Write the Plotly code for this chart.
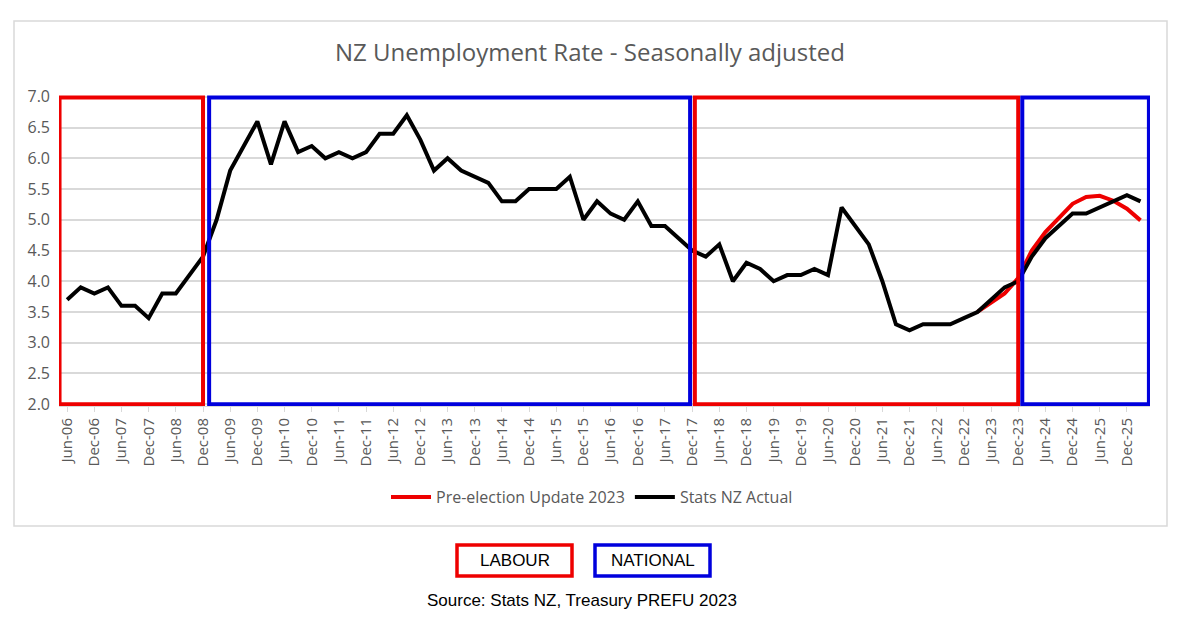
import plotly.graph_objects as go

quarters = [
    "Jun-06", "Sep-06", "Dec-06", "Mar-07", "Jun-07", "Sep-07", "Dec-07", "Mar-08",
    "Jun-08", "Sep-08", "Dec-08", "Mar-09", "Jun-09", "Sep-09", "Dec-09", "Mar-10",
    "Jun-10", "Sep-10", "Dec-10", "Mar-11", "Jun-11", "Sep-11", "Dec-11", "Mar-12",
    "Jun-12", "Sep-12", "Dec-12", "Mar-13", "Jun-13", "Sep-13", "Dec-13", "Mar-14",
    "Jun-14", "Sep-14", "Dec-14", "Mar-15", "Jun-15", "Sep-15", "Dec-15", "Mar-16",
    "Jun-16", "Sep-16", "Dec-16", "Mar-17", "Jun-17", "Sep-17", "Dec-17", "Mar-18",
    "Jun-18", "Sep-18", "Dec-18", "Mar-19", "Jun-19", "Sep-19", "Dec-19", "Mar-20",
    "Jun-20", "Sep-20", "Dec-20", "Mar-21", "Jun-21", "Sep-21", "Dec-21", "Mar-22",
    "Jun-22", "Sep-22", "Dec-22", "Mar-23", "Jun-23", "Sep-23", "Dec-23", "Mar-24",
    "Jun-24", "Sep-24", "Dec-24", "Mar-25", "Jun-25", "Sep-25", "Dec-25", "Mar-26",
]

actual = [
    3.7, 3.9, 3.8, 3.9, 3.6, 3.6, 3.4, 3.8,
    3.8, 4.1, 4.4, 5.0, 5.8, 6.2, 6.6, 5.9,
    6.6, 6.1, 6.2, 6.0, 6.1, 6.0, 6.1, 6.4,
    6.4, 6.7, 6.3, 5.8, 6.0, 5.8, 5.7, 5.6,
    5.3, 5.3, 5.5, 5.5, 5.5, 5.7, 5.0, 5.3,
    5.1, 5.0, 5.3, 4.9, 4.9, 4.7, 4.5, 4.4,
    4.6, 4.0, 4.3, 4.2, 4.0, 4.1, 4.1, 4.2,
    4.1, 5.2, 4.9, 4.6, 4.0, 3.3, 3.2, 3.3,
    3.3, 3.3, 3.4, 3.5, 3.7, 3.9, 4.0, 4.4,
    4.7, 4.9, 5.1, 5.1, 5.2, 5.3, 5.4, 5.3,
]

prefu_quarters = ["Mar-23", "Jun-23", "Sep-23", "Dec-23", "Mar-24", "Jun-24", "Sep-24",
                  "Dec-24", "Mar-25", "Jun-25", "Sep-25", "Dec-25", "Mar-26"]
prefu = [3.5, 3.65, 3.8, 4.05, 4.5, 4.8, 5.03, 5.26, 5.37, 5.39, 5.31, 5.18, 4.99]

tick_labels = quarters[::2]

# government periods (category index positions of box edges)
gov_names = ["Labour", "National", "Labour", "National"]
gov_start = [-0.56, 10.45, 46.2, 70.3]
gov_end = [10.0, 45.85, 70.0, 79.62]
gov_colors = ["#ee0000", "#0000dd", "#ee0000", "#0000dd"]

OFF = 8  # page body margin
W, H = 1183 - OFF, 639 - OFF
ML, MR, MT, MB = 59 - OFF, 33, 95 - OFF, 233
XR = [-0.6, 79.7]
YR = [1.97, 7.03]
PW, PH = W - ML - MR, H - MT - MB


def px(xpix):
    return (xpix - OFF - ML) / PW


def py(ypix):
    return (H - MB - (ypix - OFF)) / PH


GRAY = "#595959"
FONT = "Open Sans"

fig = go.Figure()
fig.add_trace(go.Scatter(
    x=prefu_quarters, y=prefu, mode="lines", name="Pre-election Update 2023",
    line=dict(color="#ee0000", width=4),
))
fig.add_trace(go.Scatter(
    x=quarters, y=actual, mode="lines", name="Stats NZ Actual",
    line=dict(color="#000000", width=4),
))

shapes = []
for x0, x1, c in zip(gov_start, gov_end, gov_colors):
    shapes.append(dict(type="rect", xref="x", yref="y", x0=x0, x1=x1, y0=2.0, y1=6.99,
                       line=dict(color=c, width=4), layer="above"))
# outer chart frame
shapes.append(dict(type="rect", xref="paper", yref="paper", x0=px(14), x1=px(1167),
                   y0=py(526), y1=py(21), line=dict(color="#d9d9d9", width=1.5),
                   layer="below"))
# party key boxes
shapes.append(dict(type="rect", xref="paper", yref="paper", x0=px(457), x1=px(572),
                   y0=py(576), y1=py(545), line=dict(color="#ee0000", width=3.5)))
shapes.append(dict(type="rect", xref="paper", yref="paper", x0=px(595), x1=px(710),
                   y0=py(576), y1=py(545), line=dict(color="#0000dd", width=3.5)))

annotations = [
    dict(text="LABOUR", xref="paper", yref="paper", x=px(514.5), y=py(560.5),
         showarrow=False, font=dict(family="Liberation Sans", size=17, color="#000000"),
         xanchor="center", yanchor="middle"),
    dict(text="NATIONAL", xref="paper", yref="paper", x=px(652.5), y=py(560.5),
         showarrow=False, font=dict(family="Liberation Sans", size=17, color="#000000"),
         xanchor="center", yanchor="middle"),
    dict(text="Source: Stats NZ, Treasury PREFU 2023", xref="paper", yref="paper",
         x=px(581.5), y=py(600), showarrow=False,
         font=dict(family="Liberation Sans", size=17, color="#000000"),
         xanchor="center", yanchor="middle"),
]

fig.update_layout(
    width=W, height=H,
    margin=dict(l=ML, r=MR, t=MT, b=MB),
    paper_bgcolor="white", plot_bgcolor="white",
    title=dict(text="NZ Unemployment Rate - Seasonally adjusted", xref="container",
               x=(590 - OFF) / W, y=1 - (53 - OFF) / H, xanchor="center", yanchor="middle",
               font=dict(family=FONT, size=24, color=GRAY)),
    showlegend=True,
    legend=dict(orientation="h", x=px(592), y=py(497), xanchor="center", yanchor="middle",
                font=dict(family=FONT, size=16, color=GRAY), bgcolor="rgba(0,0,0,0)",
                itemwidth=40, tracegroupgap=0),
    shapes=shapes,
    annotations=annotations,
)

fig.update_xaxes(
    type="category", categoryorder="array", categoryarray=quarters,
    range=XR, tickmode="array", tickvals=tick_labels, ticktext=tick_labels,
    tickangle=-90, tickfont=dict(family=FONT, size=15, color=GRAY),
    showgrid=False, showline=True, linecolor="#d9d9d9", ticks="outside",
    ticklen=5, tickcolor="#d9d9d9", zeroline=False,
)
fig.update_yaxes(
    range=YR, tickmode="linear", tick0=2.0, dtick=0.5, tickformat=".1f",
    tickfont=dict(family=FONT, size=16, color=GRAY),
    showgrid=True, gridcolor="#d9d9d9", gridwidth=1.5, zeroline=False,
    showline=False, ticks="", ticklabelstandoff=8,
)

fig.write_html("out.html")
